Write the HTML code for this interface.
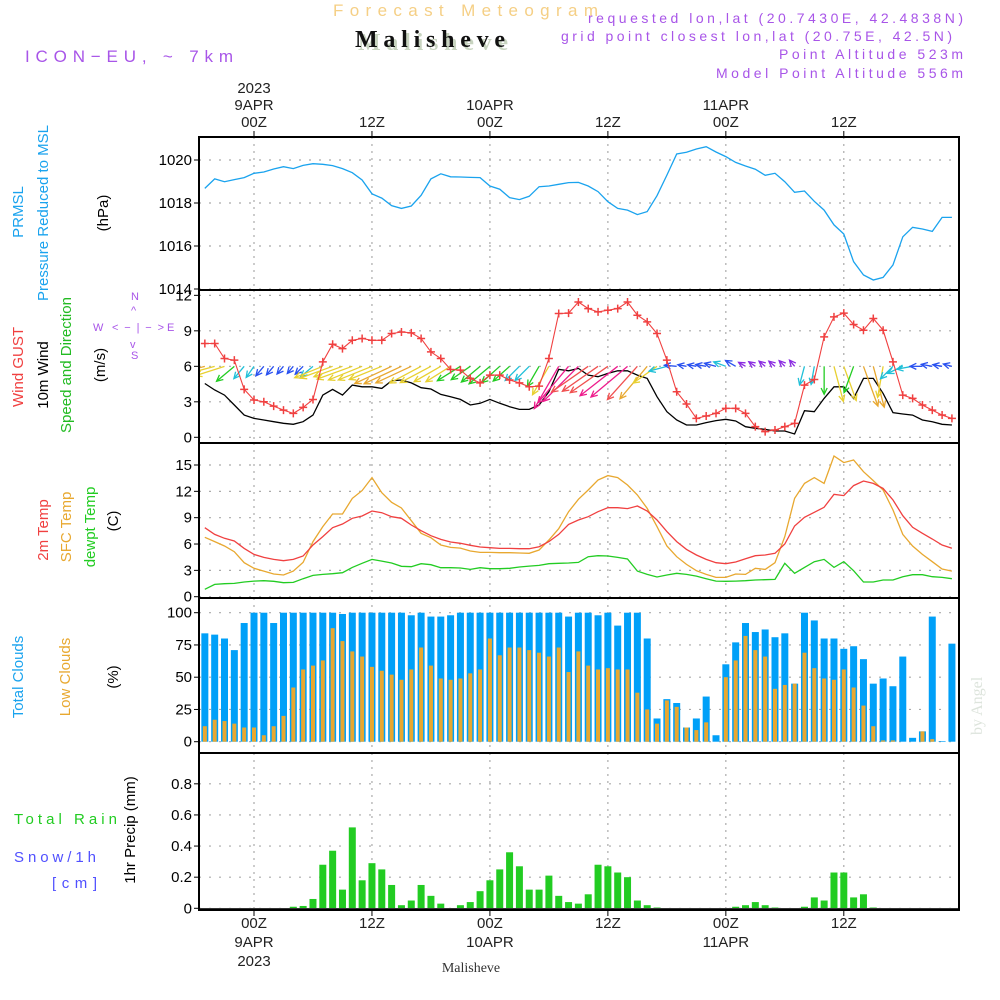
<!DOCTYPE html>
<html><head><meta charset="utf-8"><style>
html,body{margin:0;padding:0;background:#fff;}
svg{display:block;font-family:"Liberation Sans",sans-serif;}
</style></head><body>
<svg id="chart" width="1000" height="1000" viewBox="0 0 1000 1000" xmlns="http://www.w3.org/2000/svg">
<rect width="1000" height="1000" fill="#fff"/>
<text x="333" y="16" font-size="17" fill="#f5cf85" textLength="265" lengthAdjust="spacing">Forecast Meteogram</text>
<text x="358" y="50" font-size="24" font-weight="bold" font-family="Liberation Serif,serif" fill="#c8d4c0" textLength="150" lengthAdjust="spacing">Malisheve</text>
<text x="355" y="47" font-size="24" font-weight="bold" font-family="Liberation Serif,serif" fill="#111" textLength="150" lengthAdjust="spacing">Malisheve</text>
<text x="25" y="62" font-size="17" fill="#a855e8" textLength="208" lengthAdjust="spacing">ICON−EU, ~ 7km</text>
<g fill="#a855e8" font-size="14">
<text x="588" y="23" textLength="375" lengthAdjust="spacing">requested lon,lat (20.7430E, 42.4838N)</text>
<text x="561" y="41" textLength="391" lengthAdjust="spacing">grid point closest lon,lat (20.75E, 42.5N)</text>
<text x="779" y="59" textLength="184" lengthAdjust="spacing">Point Altitude 523m</text>
<text x="716" y="78" textLength="247" lengthAdjust="spacing">Model Point Altitude 556m</text>
</g>
<text transform="translate(982,735) rotate(-90)" font-size="16" font-family="Liberation Serif,serif" fill="#dde4dc">by Angel</text>

<!-- left labels -->
<g font-size="15" text-anchor="middle">
<text transform="translate(23,212) rotate(-90)" fill="#1aa3ee">PRMSL</text>
<text transform="translate(48,213) rotate(-90)" fill="#1aa3ee">Pressure Reduced to MSL</text>
<text transform="translate(108,213) rotate(-90)" fill="#000">(hPa)</text>
<text transform="translate(23,367) rotate(-90)"><tspan fill="#f04040">Wind</tspan> <tspan fill="#f04040">GUST</tspan></text>
<text transform="translate(48,375) rotate(-90)" fill="#000">10m Wind</text>
<text transform="translate(71,365) rotate(-90)" fill="#22bb22">Speed and Direction</text>
<text transform="translate(105,365) rotate(-90)" fill="#000">(m/s)</text>
<text transform="translate(48,530) rotate(-90)" fill="#f04040">2m Temp</text>
<text transform="translate(71,527) rotate(-90)" fill="#e8a830">SFC Temp</text>
<text transform="translate(95,527) rotate(-90)" fill="#22cc22">dewpt Temp</text>
<text transform="translate(118,521) rotate(-90)" fill="#000">(C)</text>
<text transform="translate(23,677) rotate(-90)" fill="#1aa3ee">Total Clouds</text>
<text transform="translate(70,677) rotate(-90)" fill="#e8a830">Low Clouds</text>
<text transform="translate(118,677) rotate(-90)" fill="#000">(%)</text>
<text transform="translate(135,830) rotate(-90)" fill="#000">1hr Precip (mm)</text>
</g>
<g font-size="15">
<text x="14" y="824" fill="#22cc22" textLength="103" lengthAdjust="spacing">Total   Rain</text>
<text x="14" y="862" fill="#5050ff" textLength="82" lengthAdjust="spacing">Snow/1h</text>
<text x="52" y="888" fill="#5050ff" textLength="45" lengthAdjust="spacing">[cm]</text>
</g>
<g fill="#a855e8" font-size="11">
<text x="131" y="300">N</text><text x="131" y="359">S</text>
<text x="93" y="331">W</text><text x="167" y="331">E</text>
<text x="112" y="331" textLength="52" lengthAdjust="spacing">&lt;−|−&gt;</text>
<text x="131" y="314">^</text><text x="130" y="348">v</text>
</g>
<text x="471" y="972" font-size="14" font-family="Liberation Serif,serif" text-anchor="middle" fill="#333">Malisheve</text>
<g id="plots"></g>
</svg>
<script>
// ---------- DATA (hourly, t = -5 .. 71 hours from 9APR 00Z) ----------
const timeStart = -5;
const pressure = [1018.68,1019.12,1018.99,1019.09,1019.18,1019.38,1019.44,1019.58,1019.69,1019.6,1019.75,1019.83,1019.8,1019.74,1019.6,1019.41,1019.07,1018.43,1018.23,1017.88,1017.75,1017.86,1018.36,1019.12,1019.36,1019.22,1019.21,1019.19,1019.18,1018.79,1018.64,1018.25,1018.16,1018.31,1018.76,1018.79,1018.87,1018.95,1018.96,1018.79,1018.53,1018.06,1017.75,1017.67,1017.46,1017.6,1018.34,1019.3,1020.28,1020.36,1020.51,1020.62,1020.37,1020.16,1019.89,1019.72,1019.57,1019.29,1019.38,1018.99,1018.5,1018.56,1018.08,1017.67,1016.98,1016.56,1015.27,1014.65,1014.42,1014.54,1015.12,1016.43,1016.87,1016.79,1016.68,1017.33,1017.33];
const gust = [7.93,7.93,6.66,6.52,4.05,3.15,3.0,2.64,2.3,2.02,2.53,3.2,6.38,7.87,7.5,8.2,8.35,8.2,8.2,8.77,8.9,8.83,8.35,7.22,6.66,5.73,5.68,4.98,4.6,5.26,5.26,4.84,4.6,4.27,4.33,6.66,10.46,10.5,11.44,10.88,10.6,10.74,10.88,11.44,10.32,9.76,8.77,6.52,3.85,2.81,1.6,1.8,2.02,2.45,2.45,2.02,0.9,0.48,0.62,0.9,1.18,4.41,4.89,8.49,10.18,10.5,9.53,9.05,10.04,9.05,6.38,3.57,3.29,2.73,2.3,1.88,1.6];
const windSpeed = [4.55,4.0,3.57,2.73,1.88,1.6,1.46,1.32,1.18,1.1,1.32,1.88,3.57,4.05,3.57,4.41,4.27,4.27,4.13,4.78,4.84,4.6,4.19,4.08,3.63,3.43,3.2,2.73,2.87,3.2,2.87,2.59,2.36,2.36,2.73,3.85,5.74,5.62,5.82,5.26,5.12,5.4,5.62,5.62,5.26,4.98,3.43,2.16,1.46,1.04,1.04,1.24,1.41,1.52,1.38,0.9,0.76,0.67,0.53,0.53,0.28,2.25,2.16,3.29,4.27,4.27,3.29,4.98,4.98,3.71,2.08,1.97,1.88,1.46,1.32,1.1,1.04];
const windDir = [75,75,72,50,40,35,40,40,40,40,45,50,68,70,70,70,68,68,68,65,65,65,62,62,60,58,58,55,50,50,48,48,45,45,30,30,30,40,45,55,55,55,52,50,42,40,55,75,95,100,100,100,105,110,120,120,125,130,130,135,140,15,10,0,345,340,20,340,345,10,45,65,80,90,100,100,105];
const temp2m = [7.86,7.1,6.65,6.34,5.5,4.82,4.48,4.25,4.1,4.25,4.63,5.89,6.84,7.86,8.28,8.93,9.19,9.76,9.57,9.11,8.93,8.17,7.52,6.95,6.53,6.23,6.08,5.85,5.66,5.58,5.5,5.5,5.47,5.47,5.7,6.27,7.1,8.24,8.74,9.11,9.68,10.14,10.14,10.03,10.33,9.76,8.74,7.41,6.27,5.39,4.75,4.25,3.87,3.76,3.95,4.33,4.67,4.75,4.94,6.0,8.05,9.04,9.61,10.18,11.66,11.51,12.65,13.18,12.91,12.34,11.01,9.23,7.9,7.22,6.57,5.89,5.51];
const tempSfc = [6.76,6.27,5.77,5.13,3.87,3.23,2.92,2.58,2.47,2.92,3.91,6.27,7.98,9.42,9.42,11.2,12.08,13.56,11.85,10.75,10.1,8.66,7.22,6.72,5.89,5.62,5.54,5.2,5.05,5.05,5.01,5.01,4.98,4.94,5.32,6.46,7.75,9.68,11.09,12.15,13.29,13.79,13.56,12.72,11.58,10.06,7.98,5.77,4.56,3.68,2.96,2.54,2.2,2.2,2.58,2.54,3.23,3.11,3.87,6.84,11.2,12.91,13.56,12.91,16.03,15.27,15.57,14.24,13.22,12.15,9.87,7.1,5.77,4.82,3.99,3.15,2.92];
const dewpt = [0.84,1.4,1.48,1.52,1.67,1.78,1.82,1.75,1.6,1.63,2.05,2.43,2.54,2.62,2.73,3.34,3.8,4.25,4.06,3.84,3.46,3.42,3.76,3.65,3.3,3.3,3.27,3.11,3.3,3.19,3.19,3.23,3.38,3.49,3.57,3.76,3.8,3.84,3.91,4.56,4.67,4.63,4.48,4.29,2.92,2.54,2.24,2.47,2.66,2.54,2.35,2.05,1.78,1.75,1.78,1.82,1.9,1.94,1.97,3.8,2.66,3.34,3.99,4.25,3.34,3.99,2.96,1.67,1.67,1.9,1.9,2.28,2.51,2.51,2.28,2.2,2.05];
const totalClouds = [84,83,80,71,92,100,100,92,100,100,100,100,100,100,99,100,100,100,100,100,100,98,100,97,97,98,100,100,100,100,100,100,100,100,100,100,100,97,100,100,98,100,90,100,100,80,18,33,30,11,18,35,5,60,77,92,85,87,81,84,45,100,94,80,80,72,74,64,45,49,43,66,3,8,97,0.5,76];
const lowClouds = [12,17,16,14,11,11,5,12,20,42,56,59,63,88,78,70,66,58,55,52,48,56,73,59,49,48,49,53,56,80,67,73,73,71,69,66,73,54,70,59,56,57,56,56,38,25,14,32,27,11,9,15,0,50,63,82,71,66,41,44,45,69,57,49,48,56,42,28,12,1,1,0,0,8,2,0,0];
const precip = [0,0,0,0,0,0,0,0,0,0.01,0.015,0.06,0.28,0.37,0.12,0.52,0.18,0.29,0.25,0.15,0.02,0.05,0.15,0.08,0.03,0,0.02,0.04,0.11,0.18,0.25,0.36,0.27,0.12,0.12,0.21,0.08,0.04,0.03,0.09,0.28,0.27,0.23,0.2,0.05,0.02,0.005,0,0,0,0,0,0,0,0.01,0.02,0.04,0.02,0.005,0,0,0.01,0.07,0.05,0.23,0.23,0.07,0.09,0.005,0,0,0,0,0,0,0,0];
const pressureTicks = [1014,1016,1018,1020];
const windTicks = [0,3,6,9,12];
const tempTicks = [0,3,6,9,12,15];
const cloudTicks = [0,25,50,75,100];
const precipTicks = [0,0.2,0.4,0.6,0.8];
const precipTickLabels = ["0","0.2","0.4","0.6","0.8"];
const timeTicks = [0,12,24,36,48,60];
const topLabels = [["2023","9APR","00Z"],["","","12Z"],["","10APR","00Z"],["","","12Z"],["","11APR","00Z"],["","","12Z"]];
const bottomLabels = [["00Z","9APR","2023"],["12Z","",""],["00Z","10APR",""],["12Z","",""],["00Z","11APR",""],["12Z","",""]];

// ---------- AXES ----------
const NS = "http://www.w3.org/2000/svg";
const root = document.getElementById('plots');
const X0 = 199, X1 = 959;
const xT = t => 254 + t * 9.83;
const P = {
  pres: {top:137, bot:290, y: v => 160 + (1020 - v) * 21.5},
  wind: {top:290, bot:443, y: v => 437.3 - v * 11.83},
  temp: {top:443, bot:598, y: v => 596.7 - v * 8.78},
  cloud:{top:598, bot:753, y: v => 741.7 - v * 1.29},
  prec: {top:753, bot:910, y: v => 908.3 - v * 155.6}
};
function el(tag, attrs, parent) {
  const e = document.createElementNS(NS, tag);
  for (const k in attrs) e.setAttribute(k, attrs[k]);
  (parent || root).appendChild(e);
  return e;
}
// clip paths
const defs = el('defs', {});
for (const k in P) {
  const cp = el('clipPath', {id: 'clip-' + k}, defs);
  el('rect', {x: X0, y: P[k].top, width: X1 - X0, height: P[k].bot - P[k].top}, cp);
}
function grid(key, ticks, labels, name) {
  const p = P[key];
  const g = el('g', {});
  
  
  timeTicks.forEach(t => {
    const ln = el('line', {x1: xT(t), x2: xT(t), y1: p.top, y2: p.bot, stroke: '#aaa', 'stroke-width': 1.2, 'stroke-dasharray': '2,5'}, g);
    
    
  });
  ticks.forEach((v, i) => {
    const y = p.y(v);
    el('line', {x1: X0, x2: X1, y1: y, y2: y, stroke: '#aaa', 'stroke-width': 1.2, 'stroke-dasharray': '2,8'}, g);
    el('line', {x1: X0 - 5, x2: X0, y1: y, y2: y, stroke: '#000', 'stroke-width': 1}, g);
    const tx = el('text', {x: X0 - 7, y: y + 5, 'font-size': 15, 'text-anchor': 'end', fill: '#000'}, g);
    
    
    tx.textContent = labels ? labels[i] : String(v);
  });
}
grid('pres', pressureTicks, null, 'pressure');
grid('wind', windTicks, null, 'wind');
grid('temp', tempTicks, null, 'temp');
grid('cloud', cloudTicks, null, 'cloud');
grid('prec', precipTicks, precipTickLabels, 'precip');

function line(key, arr, color, name, w) {
  const pts = arr.map((v, i) => xT(timeStart + i).toFixed(1) + ',' + P[key].y(v).toFixed(1)).join(' ');
  const pl = el('polyline', {points: pts, fill: 'none', stroke: color, 'stroke-width': w || 1.3, 'clip-path': 'url(#clip-' + key + ')'});
  
  
  return pl;
}
// pressure
line('pres', pressure, '#1aa3ee', 'pressure-line');

// wind
line('wind', windSpeed, '#000', 'wind-speed-line');
function windColor(s) {
  if (s < 0.95) return '#8a2be2';
  if (s < 1.5) return '#2850f0';
  if (s < 2.5) return '#20c0d8';
  if (s < 3.4) return '#22cc22';
  if (s < 4.45) return '#e8d030';
  if (s < 5.0) return '#e8a830';
  if (s < 5.5) return '#f05050';
  return '#ee1c8c';
}
const arrowG = el('g', {'clip-path': 'url(#clip-wind)'});


windDir.forEach((d, i) => {
  const s = windSpeed[i];
  const L = Math.max(8, 8.5 * s);
  const r = d * Math.PI / 180;
  const x1 = xT(timeStart + i), y1 = P.wind.y(6);
  const x2 = x1 - L * Math.sin(r), y2 = y1 + L * Math.cos(r);
  const c = windColor(s);
  const g = el('g', {stroke: c, 'stroke-width': 1.3, fill: 'none'}, arrowG);
  
  
  el('line', {x1: x1, y1: y1, x2: x2, y2: y2}, g);
  const a = Math.atan2(y2 - y1, x2 - x1), h = 7;
  el('polyline', {points: `${x2 - h * Math.cos(a - 0.45)},${y2 - h * Math.sin(a - 0.45)} ${x2},${y2} ${x2 - h * Math.cos(a + 0.45)},${y2 - h * Math.sin(a + 0.45)}`}, g);
});
line('wind', gust, '#f04040', 'wind-gust-line', 1.1);
const gm = el('g', {stroke: '#f04040', 'stroke-width': 1.5, 'clip-path': 'url(#clip-wind)'});


gust.forEach((v, i) => {
  const x = xT(timeStart + i), y = P.wind.y(v);
  el('path', {d: `M${x - 4},${y}H${x + 4}M${x},${y - 4}V${y + 4}`}, gm);
});

// temps
line('temp', dewpt, '#22cc22', 'dewpoint-line');
line('temp', tempSfc, '#e8a830', 'sfc-temp-line');
line('temp', temp2m, '#f04040', 'temp-2m-line');

// clouds
const cg = el('g', {'clip-path': 'url(#clip-cloud)'});


totalClouds.forEach((v, i) => {
  const x = xT(timeStart + i), y = P.cloud.y(v), y0 = P.cloud.y(0);
  const b = el('rect', {x: x - 3.5, y: y, width: 7, height: Math.max(0, y0 - y), fill: '#00a0f8'}, cg);
  
  
});
lowClouds.forEach((v, i) => {
  const x = xT(timeStart + i), y = P.cloud.y(v), y0 = P.cloud.y(0);
  const b = el('rect', {x: x - 2, y: y, width: 4, height: Math.max(0, y0 - y), fill: '#e8a830'}, cg);
  
  
});

// precip
const pg = el('g', {'clip-path': 'url(#clip-prec)'});


precip.forEach((v, i) => {
  const x = xT(timeStart + i), y = P.prec.y(v), y0 = P.prec.y(0);
  const b = el('rect', {x: x - 3.5, y: y, width: 7, height: Math.max(0, y0 - y), fill: '#22cc22'}, pg);
  
  
});
el('line', {x1: X0, x2: X1, y1: 908.5, y2: 908.5, stroke: '#333', 'stroke-width': 1});

// panel frames
for (const k in P) {
  const f = el('rect', {x: X0, y: P[k].top, width: X1 - X0, height: P[k].bot - P[k].top, fill: 'none', stroke: '#000', 'stroke-width': 2});
  
  
}
// time axis labels
timeTicks.forEach((t, i) => {
  const x = xT(t);
  el('line', {x1: x, x2: x, y1: 131, y2: 137, stroke: '#000'});
  el('line', {x1: x, x2: x, y1: 910, y2: 916, stroke: '#000'});
  topLabels[i].forEach((s, j) => {
    if (!s) return;
    const tx = el('text', {x: x, y: 93 + j * 17, 'font-size': 15, 'text-anchor': 'middle', fill: '#222'});
    
    
    tx.textContent = s;
  });
  bottomLabels[i].forEach((s, j) => {
    if (!s) return;
    const tx = el('text', {x: x, y: 928 + j * 19, 'font-size': 15, 'text-anchor': 'middle', fill: '#222'});
    
    
    tx.textContent = s;
  });
});
</script>
</body></html>
